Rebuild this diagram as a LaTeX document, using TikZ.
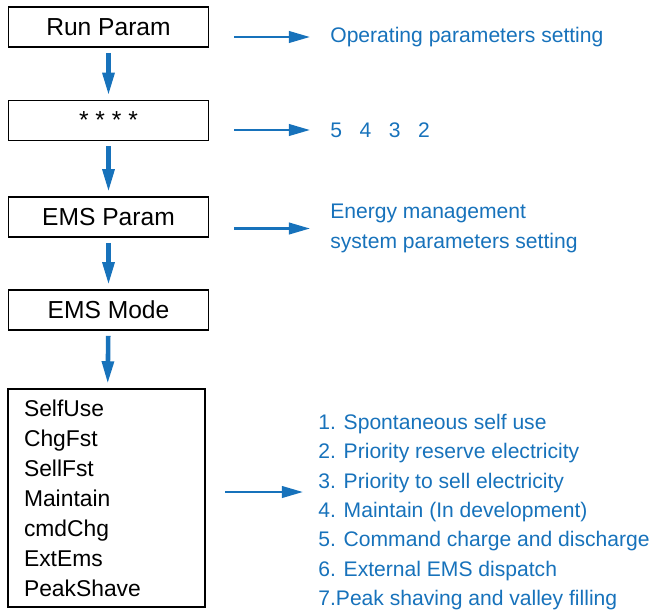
\documentclass[tikz,border=0pt]{standalone}
\usepackage{fontspec}
\setmainfont{Liberation Sans}
\usepackage{tikz}
\usetikzlibrary{arrows.meta}

\definecolor{menublue}{RGB}{23,114,187}

\begin{document}
\begin{tikzpicture}[x=0.02cm, y=-0.02cm,
    menubox/.style={draw, line width=1.1pt, minimum width=4cm, minimum height=0.8cm,
      inner sep=0pt, font=\fontsize{14}{16}\selectfont},
    downarrow/.style={menublue, line width=2.6pt, -{Triangle[length=13pt,width=6.5pt]},
      shorten <=0.1cm, shorten >=0.08cm},
    sidearrow/.style={menublue, line width=1.5pt, -{Triangle[length=12pt,width=6.5pt]},
      shorten <=0.5cm, shorten >=0.4cm},
    note/.style={menublue, anchor=west, inner sep=0pt, align=left,
      font=\fontsize{12}{16.7}\selectfont}]
      \useasboundingbox (0,0) rectangle (652,609);

      % Menu boxes
      \node[menubox] (run) at (108.5,27) {Run Param};
      \node[menubox] (pwd) at (108.5,120.5) {* * * *};
      \node[menubox] (ems) at (108.5,217) {EMS Param};
      \node[menubox] (mode) at (108.5,310) {EMS Mode};
      \node[draw, line width=1.1pt, minimum width=3.94cm, minimum height=4.36cm,
        text width=3.3cm, inner xsep=0.32cm, align=left,
        font=\fontsize{13}{17.1}\selectfont] (modes) at (106.5,498)
        {SelfUse\\ChgFst\\SellFst\\Maintain\\cmdChg\\ExtEms\\PeakShave};

      % Down arrows
      \draw[downarrow] (run) -- (pwd);
      \draw[downarrow] (pwd) -- (ems);
      \draw[downarrow] (ems) -- (mode);
      \draw[downarrow] (mode) -- (modes);

      % Notes on the right
      \node[note] (opnote) at (330,37) {Operating parameters setting};
      \node[note] (pwdnote) at (330,130) {5~~~4~~~3~~~2};
      \node[note] (emsnote) at (330,228.5) {Energy management\\system parameters setting};
      \node[note] (modenote) at (318,512)
        {1. Spontaneous self use\\2. Priority reserve electricity\\3. Priority to sell electricity\\
         4. Maintain (In development)\\5. Command charge and discharge\\6. External EMS dispatch\\
         7.Peak shaving and valley filling};

      % Side arrows
      \draw[sidearrow] (run.east |- opnote) -- (opnote);
      \draw[sidearrow] (pwd.east |- pwdnote) -- (pwdnote);
      \draw[sidearrow] (ems.east |- emsnote) -- (emsnote);
      \coordinate (m1) at (225,492);
      \coordinate (m2) at (303,492);
      \draw[sidearrow, shorten <=0pt, shorten >=0pt] (m1) -- (m2);

\end{tikzpicture}
\end{document}
